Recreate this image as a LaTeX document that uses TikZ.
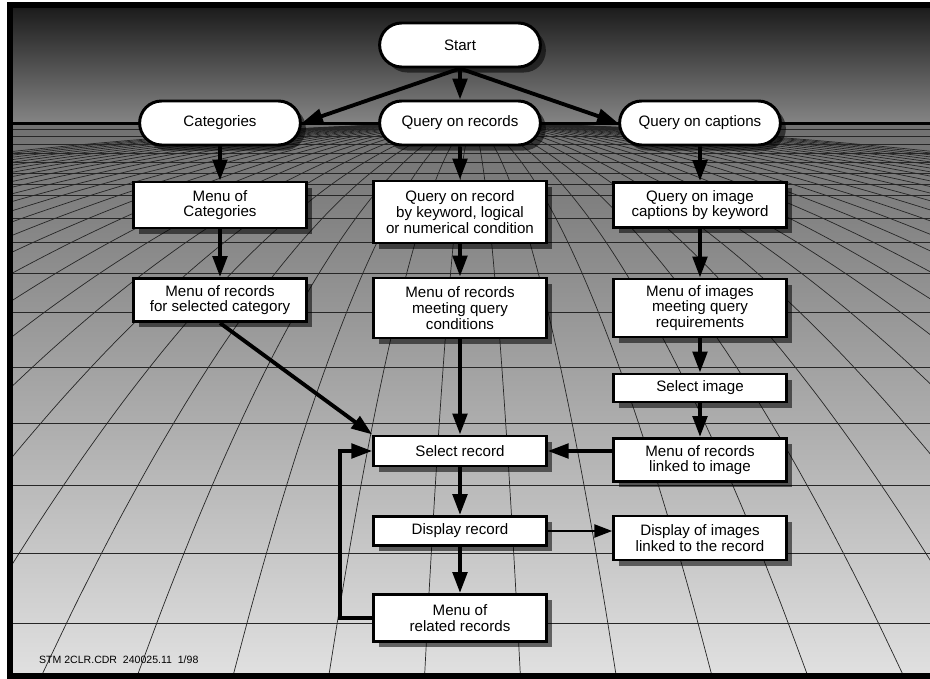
\documentclass[tikz,border=0pt]{standalone}
\usepackage{fontspec}
\setmainfont{Liberation Sans}
\usetikzlibrary{arrows.meta,shapes.misc,shadows}

\begin{document}
\begin{tikzpicture}[x=.2mm,y=-.2mm,
  font=\fontsize{8.6}{8.9}\selectfont,
  shadowed/.style={drop shadow={shadow xshift=1.1mm,shadow yshift=-1.1mm,fill=black,opacity=.55}},
  pill/.style={rounded rectangle,draw,fill=white,line width=1.7pt,minimum width=34.5mm,minimum height=8.8mm,shadowed},
  box/.style={rectangle,draw,fill=white,line width=1.7pt,minimum width=34.5mm,align=center,inner sep=1pt,shadowed},
  arr/.style={line width=2.2pt,-{Triangle[length=4.2mm,width=2.9mm]}},
  thinarr/.style={line width=1.4pt,-{Triangle[length=3.6mm,width=2.6mm]}},
  floorline/.style={black!85,line width=.4pt}]
  \useasboundingbox (0,0) rectangle (930,679);
  % sky and floor
  \shade[top color=black!90,bottom color=black!48] (10,5) rectangle (936,123);
  \shade[top color=black!56,bottom color=black!12] (10,123) rectangle (936,676);
  \begin{scope}
    \clip (10,123) rectangle (936,676);
    \foreach \y in {129,136,144,153,162,173,184,195,218,242,273,312,367,423,485,553,623}
      \draw[floorline] (10,\y) -- (936,\y);
    \foreach \j in {0.5,1.5,...,28.5} {
      \draw[floorline] plot[domain=0:1.01,samples=31,smooth] ({472.5+95*\j*\x*\x*\x},{123+545*\x*\x*\x*\x*\x});
      \draw[floorline] plot[domain=0:1.01,samples=31,smooth] ({472.5-95*\j*\x*\x*\x},{123+545*\x*\x*\x*\x*\x});
    }
  \end{scope}
  \draw[line width=.6mm] (10,123) -- (936,123); % horizon
  \draw[line width=1.2mm] (10,5) rectangle (936,676);

  % top row
  \node[pill] (start) at (460,45)  {Start};
  \node[pill] (cat)   at (220,123) {Categories};
  \node[pill] (qrec)  at (460,123) {Query on records};
  \node[pill] (qcap)  at (700,123) {Query on captions};
  % three columns
  \node[box,minimum height=9.2mm]  (catmenu) at (220,205) {Menu of\\Categories};
  \node[box,minimum height=12.4mm] (qkey)    at (460,212) {Query on record\\by keyword, logical\\or numerical condition};
  \node[box,minimum height=9mm]    (qimg)    at (700,205) {Query on image\\captions by keyword};
  \node[box,minimum height=8.6mm]  (catrec)  at (220,300) {Menu of records\\for selected category};
  \node[box,minimum height=12mm]   (recmenu) at (460,308) {Menu of records\\meeting query\\conditions};
  \node[box,minimum height=11.6mm] (imgmenu) at (700,308) {Menu of images\\meeting query\\requirements};
  \node[box,minimum height=5.6mm]  (selimg)  at (700,388) {Select image};
  \node[box,minimum height=8.6mm]  (linkrec) at (700,460) {Menu of records\\linked to image};
  \node[box,minimum height=6mm]    (selrec)  at (460,451) {Select record};
  \node[box,minimum height=5.8mm]  (disprec) at (460,531) {Display record};
  \node[box,minimum height=8.8mm]  (dispimg) at (700,538) {Display of images\\linked to the record};
  \node[box,minimum height=9.4mm]  (relrec)  at (460,618) {Menu of\\related records};
  \node[anchor=west,font=\fontsize{6}{7}\selectfont] (stamp) at (33,660) {STM 2CLR.CDR\ \ 240025.11\ \ 1/98};

  \draw[arr] (start) -- (qrec);
  \draw[arr] (start.south) -- (cat.east);
  \draw[arr] (start.south) -- (qcap.west);
  \draw[arr] (cat) -- (catmenu);
  \draw[arr] (catmenu) -- (catrec);
  \draw[arr] (catrec.south) -- (selrec.north west);
  \draw[arr] (qrec) -- (qkey);
  \draw[arr] (qkey) -- (recmenu);
  \draw[arr] (recmenu) -- (selrec);
  \draw[arr] (qcap) -- (qimg);
  \draw[arr] (qimg) -- (imgmenu);
  \draw[arr] (imgmenu) -- (selimg);
  \draw[arr] (selimg) -- (linkrec);
  \draw[arr] (linkrec.west |- selrec) -- (selrec.east);
  \draw[arr] (selrec) -- (disprec);
  \draw[arr] (disprec) -- (relrec);
  \draw[thinarr] (disprec.east) -- (disprec.east -| dispimg.west);
  \draw[arr] (relrec.west) -- ++(-32,0) |- (selrec.west);
\end{tikzpicture}
\end{document}
